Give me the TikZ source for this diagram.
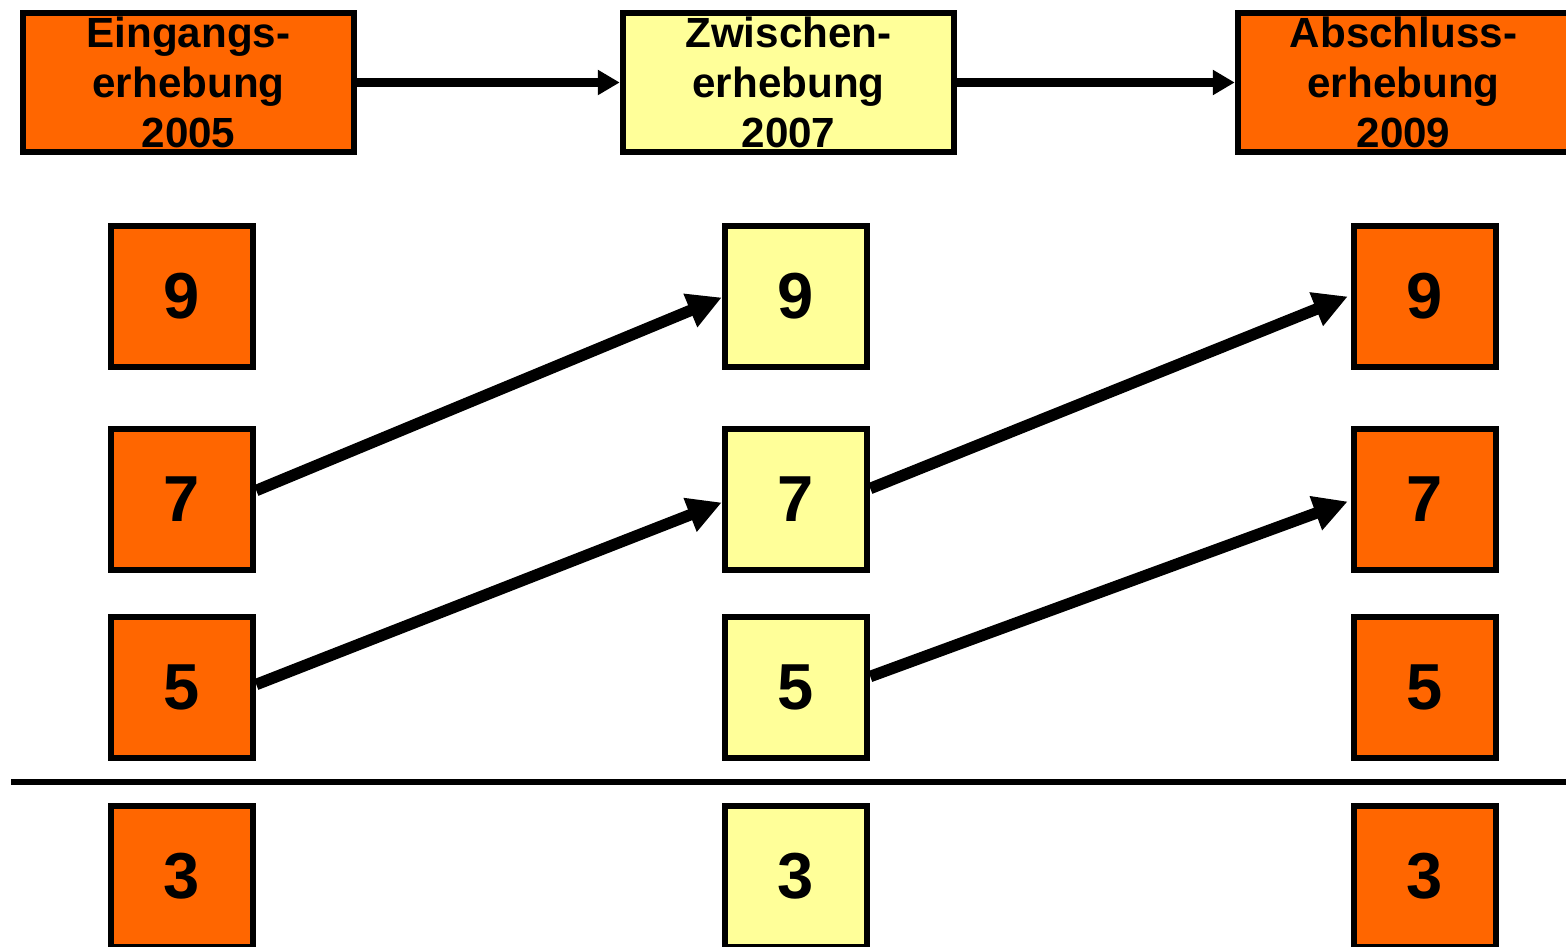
\documentclass[tikz,border=0pt]{standalone}
\usepackage{fontspec}
\setmainfont{Liberation Sans}
\usetikzlibrary{arrows.meta}
\definecolor{orng}{HTML}{FF6600}
\definecolor{pale}{HTML}{FFFF99}
\tikzset{
  head/.style={draw=black, line width=0.065cm, minimum width=3.31cm, minimum height=1.39cm, inner sep=0pt, align=center,
    font=\fontsize{12pt}{14.3pt}\selectfont\bfseries},
  sq/.style={draw=black, line width=0.065cm, minimum width=1.42cm, minimum height=1.41cm, inner sep=0pt,
    font=\fontsize{18.5pt}{20pt}\selectfont\bfseries},
  topar/.style={line width=0.085cm, -{Triangle[length=0.22cm,width=0.24cm]}},
  diar/.style={line width=0.115cm, -{Triangle[length=0.34cm,width=0.34cm]}},
}
\begin{document}
\begin{tikzpicture}
\useasboundingbox (0,0) rectangle (15.66,-9.47);
\clip (0,0) rectangle (15.66,-9.47);
% header boxes
\node[head, fill=orng] (h1) at (1.885,-0.825) {Eingangs-\\erhebung\\2005};
\node[head, fill=pale] (h2) at (7.885,-0.825) {Zwischen-\\erhebung\\2007};
\node[head, fill=orng] (h3) at (14.035,-0.825) {Abschluss-\\erhebung\\2009};
\draw[topar] (h1.east) -- (h2.west);
\draw[topar] (h2.east) -- (h3.west);
% column 1
\node[sq, fill=orng] (a9) at (1.82,-2.965) {9};
\node[sq, fill=orng] (a7) at (1.82,-4.995) {7};
\node[sq, fill=orng] (a5) at (1.82,-6.875) {5};
\node[sq, fill=orng] (a3) at (1.82,-8.765) {3};
% column 2
\node[sq, fill=pale] (b9) at (7.96,-2.965) {9};
\node[sq, fill=pale] (b7) at (7.96,-4.995) {7};
\node[sq, fill=pale] (b5) at (7.96,-6.875) {5};
\node[sq, fill=pale] (b3) at (7.96,-8.765) {3};
% column 3
\node[sq, fill=orng] (c9) at (14.25,-2.965) {9};
\node[sq, fill=orng] (c7) at (14.25,-4.995) {7};
\node[sq, fill=orng] (c5) at (14.25,-6.875) {5};
\node[sq, fill=orng] (c3) at (14.25,-8.765) {3};
% separator
\coordinate (sl) at (0.11,-7.82);
\coordinate (sr) at (15.7,-7.82);
\draw[line width=0.055cm] (sl) -- (sr);
% diagonal arrows
\draw[diar] ([yshift=0.09cm]a7.east) -- ([yshift=-0.01cm]b9.west);
\draw[diar] ([yshift=0.03cm]a5.east) -- ([yshift=-0.03cm]b7.west);
\draw[diar] ([yshift=0.11cm]b7.east) -- ([xshift=-0.03cm]c9.west);
\draw[diar] ([yshift=0.11cm]b5.east) -- ([xshift=-0.03cm,yshift=-0.02cm]c7.west);
\end{tikzpicture}
\end{document}
